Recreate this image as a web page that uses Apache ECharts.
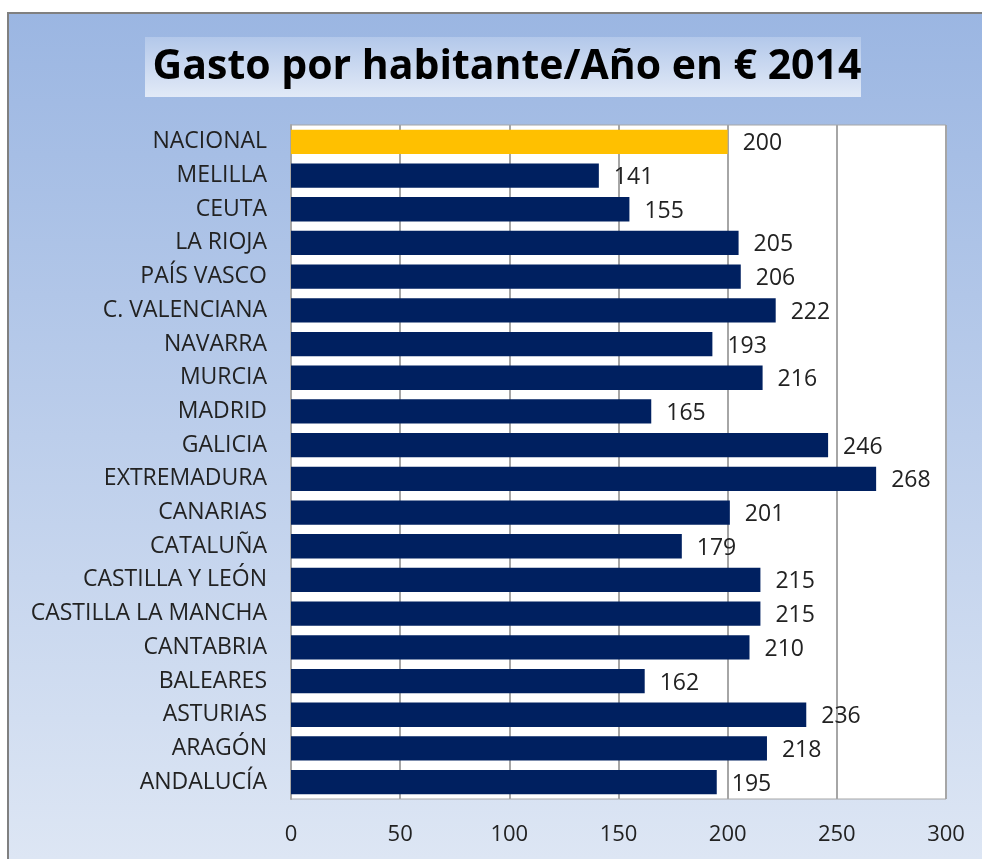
<!DOCTYPE html>
<html>
<head>
<meta charset="utf-8">
<script src="https://cdn.jsdelivr.net/npm/echarts@6/dist/echarts.min.js"></script>
<style>
  html, body { margin: 0; padding: 0; background: #fff; overflow: hidden; }
  #chart { width: 982px; height: 859px; }
</style>
</head>
<body>
<div id="chart"></div>
<script>
// regions listed top to bottom as in the picture
let regions = ['NACIONAL', 'MELILLA', 'CEUTA', 'LA RIOJA', 'PAÍS VASCO', 'C. VALENCIANA',
  'NAVARRA', 'MURCIA', 'MADRID', 'GALICIA', 'EXTREMADURA', 'CANARIAS', 'CATALUÑA',
  'CASTILLA Y LEÓN', 'CASTILLA LA MANCHA', 'CANTABRIA', 'BALEARES', 'ASTURIAS',
  'ARAGÓN', 'ANDALUCÍA'];
let gasto = [200, 141, 155, 205, 206, 222, 193, 216, 165, 246, 268, 201, 179,
  215, 215, 210, 162, 236, 218, 195];
let xTicks = [0, 50, 100, 150, 200, 250, 300];

let font = "'Open Sans', sans-serif";

let option = {
  animation: false,
  graphic: [
    {
      // outer frame with the blue gradient (runs off the right and bottom edges)
      type: 'rect',
      z: -10,
      shape: { x: 8, y: 13, width: 980, height: 846 },
      style: {
        fill: new echarts.graphic.LinearGradient(0, 0, 0, 1, [
          { offset: 0, color: '#9BB6E2' },
          { offset: 1, color: '#DDE6F4' }
        ])
      }
    },
    {
      type: 'polyline',
      z: -9,
      shape: { points: [[8, 859], [8, 13], [982, 13]] },
      style: { stroke: '#808080', lineWidth: 2, fill: null }
    },
    {
      // title box
      type: 'rect',
      z: -5,
      shape: { x: 145, y: 37, width: 716, height: 60 },
      style: {
        fill: new echarts.graphic.LinearGradient(0, 0, 0, 1, [
          { offset: 0, color: '#B3C8EA' },
          { offset: 1, color: '#E2EAF7' }
        ])
      }
    }
  ],
  title: {
    text: 'Gasto por habitante/Año en € 2014',
    left: 502,
    top: 42,
    textAlign: 'center',
    textStyle: { fontFamily: font, fontWeight: 'bold', fontSize: 41, color: '#000' }
  },
  grid: {
    left: 291,
    right: 36,
    top: 125,
    bottom: 60,
    show: true,
    backgroundColor: '#fff',
    borderColor: '#A6A6A6',
    borderWidth: 1
  },
  xAxis: {
    type: 'value',
    min: 0,
    max: 300,
    interval: 50,
    axisLine: { show: false },
    axisTick: { show: false },
    splitLine: { lineStyle: { color: '#A6A6A6', width: 2 } },
    axisLabel: {
      margin: 25,
      fontFamily: font,
      fontSize: 22,
      color: '#222',
      formatter: v => xTicks.includes(v) ? String(v) : ''
    }
  },
  yAxis: {
    type: 'category',
    inverse: true,
    data: regions,
    axisLine: { show: true, lineStyle: { color: '#A6A6A6', width: 2 } },
    axisTick: { show: false },
    axisLabel: { margin: 24, fontFamily: font, fontSize: 23, color: '#222' }
  },
  series: [{
    type: 'bar',
    barWidth: '72%',
    data: gasto.map((v, i) => ({
      value: v,
      itemStyle: { color: i === 0 ? '#FFC000' : '#002060' }
    })),
    label: {
      show: true,
      position: 'right',
      distance: 15,
      offset: [0, 2],
      fontFamily: font,
      fontSize: 23,
      color: '#222'
    }
  }]
};

let chart = echarts.init(document.getElementById('chart'));
chart.setOption(option);
</script>
</body>
</html>
